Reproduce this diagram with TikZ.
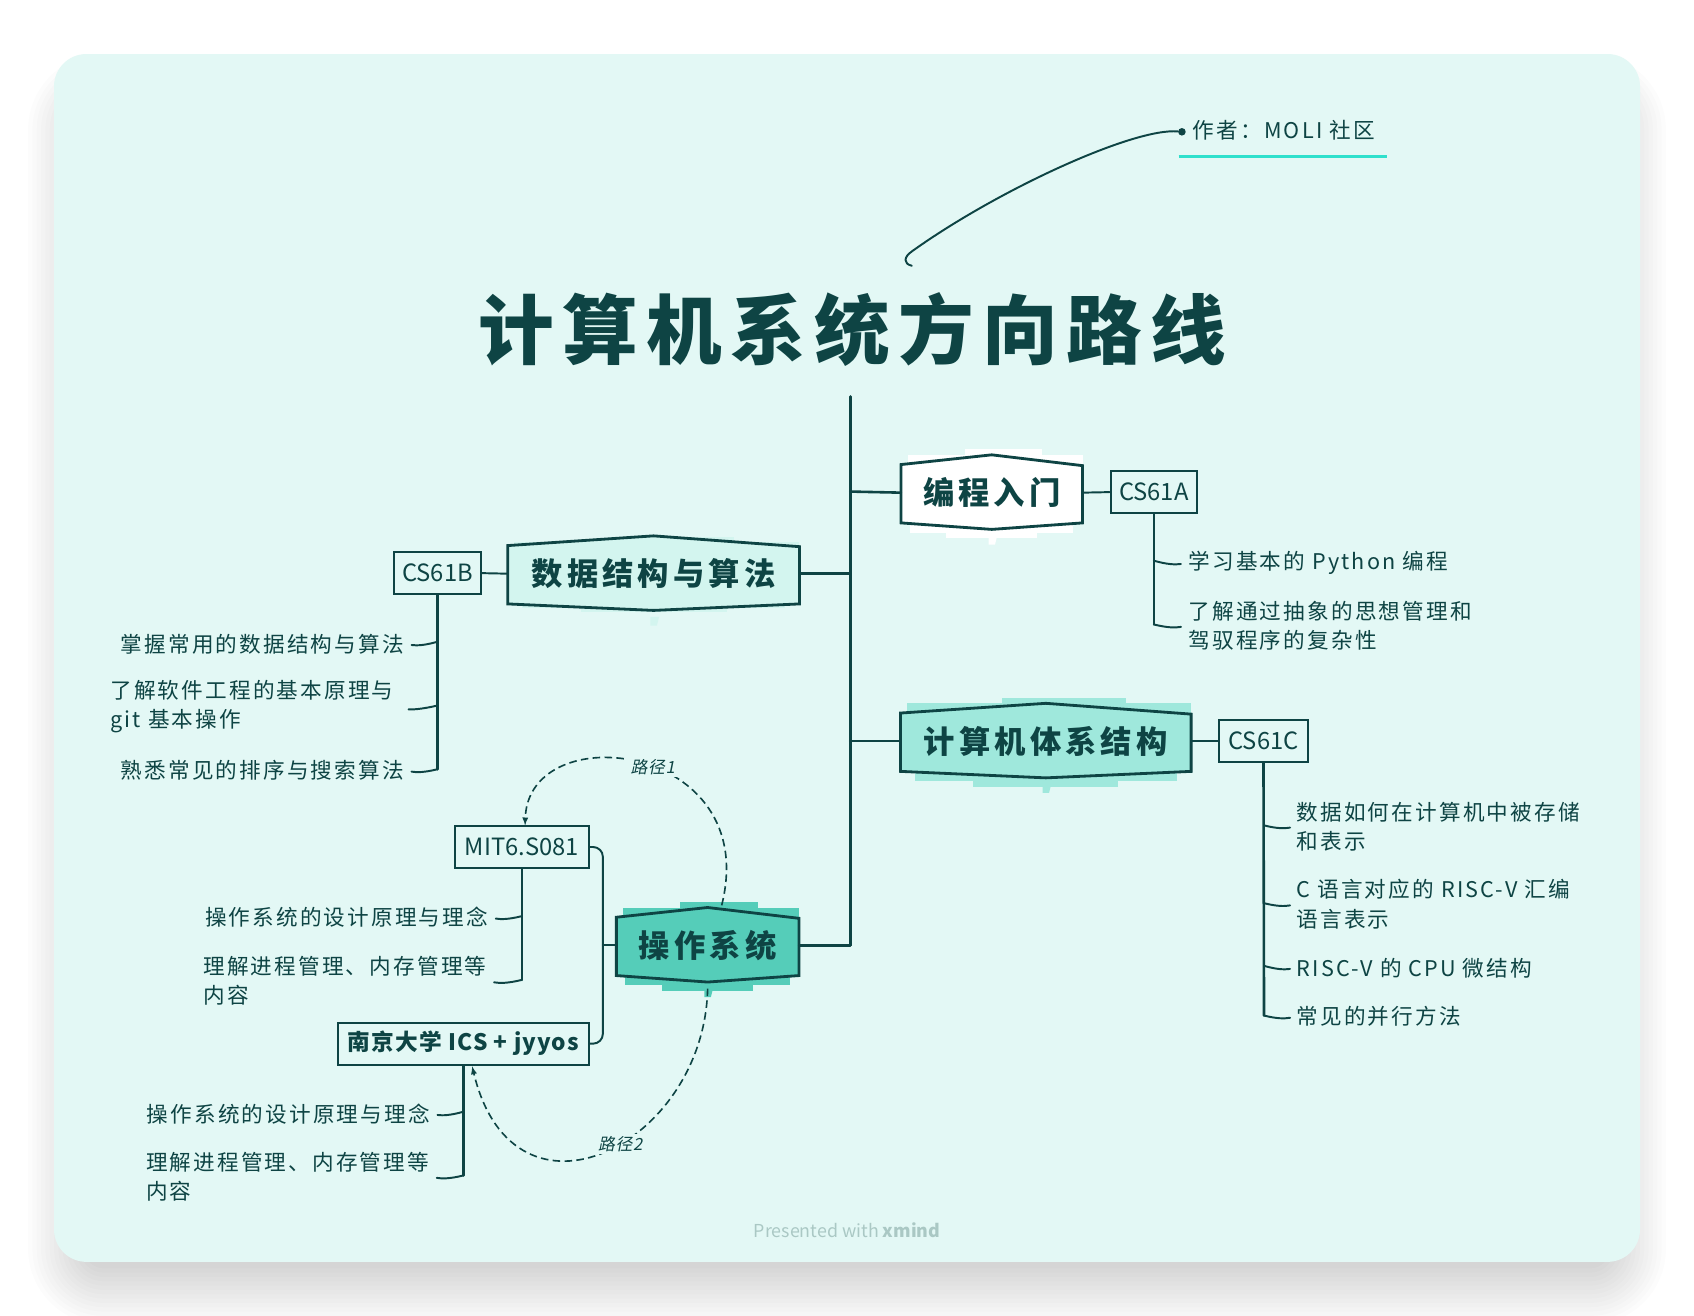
\documentclass[tikz,border=0pt]{standalone}
\usepackage{fontspec}
\setmainfont[LetterSpace=10]{Noto Sans CJK SC}
\newfontfamily\titlefont[LetterSpace=11]{Noto Sans CJK SC}
\newfontfamily\topicfont[LetterSpace=13]{Noto Sans CJK SC}
\newfontfamily\boxfont{Noto Sans CJK SC}
\newfontfamily\njufont[LetterSpace=5]{Noto Sans CJK SC}
\newfontfamily\slantfont[FakeSlant=0.2,LetterSpace=5]{Noto Sans CJK SC}
\usetikzlibrary{arrows}

\definecolor{ink}{HTML}{0E4444}
\definecolor{panel}{HTML}{E3F8F5}
\definecolor{mint}{HTML}{2FE0CC}
\definecolor{footer}{HTML}{AAC8C4}
\definecolor{topicA}{HTML}{FFFFFF}
\definecolor{topicB}{HTML}{D3F5EF}
\definecolor{topicC}{HTML}{9FE8DC}
\definecolor{topicD}{HTML}{55CDB9}

\tikzset{
  conn/.style={ink,line width=1.8pt,line join=round,line cap=round},
  trunk/.style={ink,line width=2.4pt,line cap=round},
  hexline/.style={ink,line width=2.6pt,line join=miter},
  topictext/.style={ink,font=\fontsize{29}{35}\selectfont\topicfont\bfseries,inner sep=0,minimum height=52pt},
  subbox/.style={draw=ink,line width=1.8pt,text=ink,font=\fontsize{22}{26}\selectfont\boxfont,inner sep=0,minimum height=39pt},
  leaf/.style={ink,font=\fontsize{20}{27}\selectfont,inner sep=0,align=left,yshift=-1pt},
  dashlink/.style={ink,line width=1.5pt,dashed,dash pattern=on 7pt off 4pt,>=latex},
  pathlabel/.style={ink,fill=panel,inner sep=2pt,font=\fontsize{15.5}{18}\selectfont\slantfont},
}

% scribble height (optional), name, x, y, width, colour, text
\newcommand{\topicbox}[7][1]{
\begin{scope}[shift={(#3,#4)}]
\pgfmathsetmacro{\hw}{#5/2}
\begin{scope}[yscale=#1]
\fill[#6] (-0.3*\hw,-40) rectangle (0.55*\hw,-28);
\fill[#6] (-\hw+6,-35) rectangle (\hw,-26);
\fill[#6] (-0.9*\hw,26) rectangle (0.9*\hw,37);
\fill[#6] (-0.5*\hw,30) rectangle (0.5*\hw,42);
\end{scope}
\fill[#6] (-3,40) -- (5,40) -- (3,48) -- (-3,48) -- cycle;
\filldraw[hexline,fill=#6] (-\hw,-26) -- (0,-35) -- (\hw,-25) -- (\hw,28) -- (0,34) -- (-\hw,28) -- cycle;
\node[topictext,minimum width=#5 pt] (#2) at (0,0) {#7};
\end{scope}
}

\begin{document}
\begin{tikzpicture}[x=1pt,y=-1pt]
\useasboundingbox (0,0) rectangle (1568,1218);
\fill[white] (0,0) rectangle (1568,1218);
% soft shadow of the card
\foreach \r in {-12,-8,...,40}
  \fill[black,opacity=.012,rounded corners=30+\r] (66-\r,90-\r) rectangle (1502+\r,1186+\r);
\fill[panel,rounded corners=30] (50,50) rectangle (1518,1168);

% title and note
\node[ink,font=\fontsize{70}{80}\selectfont\titlefont\bfseries,inner sep=0] (title) at (789,305) {计算机系统方向路线};
\node[circle,fill=ink,inner sep=0,minimum size=7pt] (noteDot) at (1094,122) {};
\node[leaf,anchor=west] (author) at (1104,120) {作者：MOLI 社区};
\coordinate (noteFoot) at (844,246);
\coordinate (lineL) at (1091,145);
\coordinate (lineR) at (1284,145);
\draw[conn] (noteFoot) .. controls (836,244) and (836,238) .. (845,232) .. controls (925,175) and (1050,118) .. (noteDot);
\draw[mint,line width=3pt] (lineL) -- (lineR);

% spine
\coordinate (spineTop) at (787,367);
\coordinate (spineA) at (787,455);
\coordinate (spineB) at (787,531);
\coordinate (spineC) at (787,686);
\coordinate (spineD) at (787,875);
\path[trunk] (spineTop) edge (spineD);

% topics
\topicbox{prog}{918}{456}{168}{topicA}{编程入门}
\topicbox[.85]{algo}{605}{531}{270}{topicB}{数据结构与算法}
\topicbox{arch}{968}{686}{269}{topicC}{计算机体系结构}
\topicbox{osys}{655}{875}{169}{topicD}{操作系统}

\path[trunk]	(spineA)	edge	(prog.west)
		(spineB)	edge	(algo.east)
		(spineC)	edge	(arch.west)
		(spineD)	edge	(osys.east);

% boxes
\node[subbox,minimum width=80pt] (csA) at (1068,455.5) {CS61A};
\node[subbox,minimum width=80pt] (csB) at (405,530.5) {CS61B};
\node[subbox,minimum width=83pt] (csC) at (1169.5,686) {CS61C};
\node[subbox,minimum width=124pt] (mit) at (483,784) {MIT6.S081};
\node[subbox,minimum width=232pt,font=\fontsize{21}{26}\selectfont\njufont\bfseries] (nju) at (429,966) {南京大学 ICS + jyyos};

\path[conn]	(prog.east)	edge	(csA.west)
		(algo.west)	edge	(csB.east)
		(arch.east)	edge	(csC.west);

\coordinate (osFork) at (558,875);
\draw[conn,rounded corners=9pt] (mit.east) -| (osFork) |- (nju.east);
\path[conn] (osFork) edge (osys.west);

% CS61A leaves
\coordinate (a1) at (1068,519);
\coordinate (a2) at (1068,578);
\node[leaf,anchor=west] (aText1) at (1100,520) {学习基本的 Python 编程};
\node[leaf,anchor=west] (aText2) at (1100,578) {了解通过抽象的思想管理和\\驾驭程序的复杂性};
\path[trunk] (csA.south) edge (a2);
\path[conn,shorten >=7pt]	(a1)	edge[bend right=12]	(aText1.west)
		(a2)	edge[bend right=12]	(aText2.west);

% CS61B leaves
\coordinate (b1) at (405,594);
\coordinate (b2) at (405,653);
\coordinate (b3) at (405,712);
\node[leaf,anchor=east] (bText1) at (374,595) {掌握常用的数据结构与算法};
\node[leaf,anchor=west] (bText2) at (102,653) {了解软件工程的基本原理与\\git 基本操作};
\node[leaf,anchor=east] (bText3) at (374,712) {熟悉常见的排序与搜索算法};
\path[trunk] (csB.south) edge (b3);
\path[conn]	(b1)	edge[bend left=12,shorten >=7pt]	(bText1.east)
		(b2)	edge[bend left=12,shorten >=14pt]	(bText2.east)
		(b3)	edge[bend left=12,shorten >=7pt]	(bText3.east);

% CS61C leaves
\coordinate (c1) at (1170,764);
\coordinate (c2) at (1170,836);
\coordinate (c3) at (1170,894);
\coordinate (c4) at (1170,940);
\node[leaf,anchor=west] (cText1) at (1200,764) {数据如何在计算机中被存储\\和表示};
\node[leaf,anchor=west] (cText2) at (1200,836) {C 语言对应的 RISC-V 汇编\\语言表示};
\node[leaf,anchor=west] (cText3) at (1200,895) {RISC-V 的 CPU 微结构};
\node[leaf,anchor=west] (cText4) at (1200,940) {常见的并行方法};
\path[trunk] (csC.south) edge (c4);
\path[conn,shorten >=6pt]	(c1)	edge[bend right=12]	(cText1.west)
		(c2)	edge[bend right=12]	(cText2.west)
		(c3)	edge[bend right=12]	(cText3.west)
		(c4)	edge[bend right=12]	(cText4.west);

% MIT leaves
\coordinate (m1) at (483,848);
\coordinate (m2) at (483,907);
\node[leaf,anchor=east] (mText1) at (452,848) {操作系统的设计原理与理念};
\node[leaf,anchor=west] (mText2) at (188,907) {理解进程管理、内存管理等\\内容};
\path[trunk] (mit.south) edge (m2);
\path[conn,shorten >=7pt]	(m1)	edge[bend left=12]	(mText1.east)
		(m2)	edge[bend left=12]	(mText2.east);

% NJU leaves
\coordinate (n1) at (429,1029);
\coordinate (n2) at (429,1088);
\node[leaf,anchor=east] (nText1) at (398,1030) {操作系统的设计原理与理念};
\node[leaf,anchor=west] (nText2) at (135,1088) {理解进程管理、内存管理等\\内容};
\path[trunk] (nju.south -| n1) edge (n2);
\path[conn,shorten >=7pt]	(n1)	edge[bend left=12]	(nText1.east)
		(n2)	edge[bend left=12]	(nText2.east);

% routes
\coordinate (routeA) at (668,838);
\coordinate (routeAEnd) at (486,764);
\coordinate (routeB) at (655,915);
\coordinate (routeBEnd) at (437,987);
\draw[dashlink,->] (routeA) .. controls (706,687) and (489,662) .. (routeAEnd) node[pathlabel,pos=.46] (routeOne) {路径1};
\draw[dashlink,->] (routeB) .. controls (652,1060) and (476,1148) .. (routeBEnd) node[pathlabel,pos=.45] (routeTwo) {路径2};

\node[footer,font=\fontsize{16.5}{20}\selectfont\boxfont] (credit) at (784,1139) {Presented with \bfseries xmind};
\end{tikzpicture}
\end{document}
